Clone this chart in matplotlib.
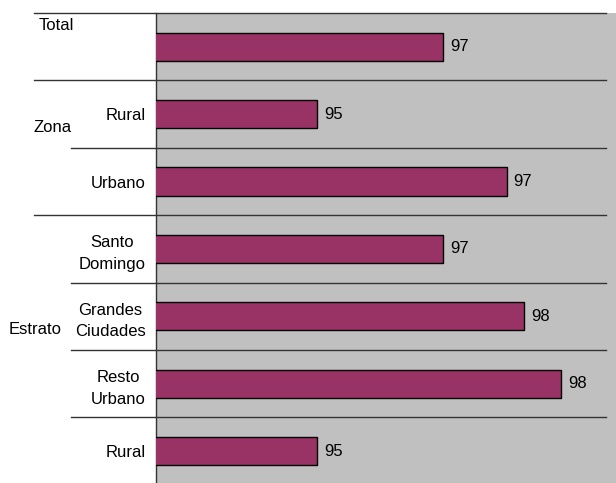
import matplotlib
matplotlib.use("Agg")
import matplotlib.pyplot as plt
import matplotlib.transforms as mtransforms

plt.rcParams['font.family'] = ['Liberation Sans', 'DejaVu Sans']

categories = ["", "Rural", "Urbano", "Santo\nDomingo", "Grandes\nCiudades", "Resto\nUrbano", "Rural"]
values = [96.55, 94.75, 97.46, 96.55, 97.71, 98.24, 94.75]
groups = ["Total", "Zona", "Estrato"]

FS = 12
W, H = 616, 483
fig = plt.figure(figsize=(W / 100, H / 100), dpi=100)
ax_left, ax_right, ax_top, ax_bottom = 156, 616, 13, 483
ax = fig.add_axes([ax_left / W, 1 - ax_bottom / H, (ax_right - ax_left) / W, (ax_bottom - ax_top) / H])
ax.set_facecolor('#c0c0c0')

ypos = list(range(len(values)))
ax.barh(ypos, values, height=0.42, left=0, color='#993366', edgecolor='black', linewidth=1.0, zorder=3)
xmin = 92.45
ax.set_xlim(xmin, xmin + (ax_right - ax_left) / 70.0)
span = (ax_bottom - ax_top) / 67.4
ax.set_ylim(-0.5 + span, -0.5)

for y, v in zip(ypos, values):
    ax.annotate(f"{v:.0f}", xy=(v, y), xytext=(5, 0), textcoords='offset points',
                ha='left', va='center', fontsize=FS, color='black')

ax.set_xticks([])
ax.set_yticks(ypos)
ax.set_yticklabels(categories, fontsize=FS, multialignment='center', linespacing=1.55)
ax.tick_params(axis='y', length=0, pad=7.5)
for s in ['top', 'right', 'bottom']:
    ax.spines[s].set_visible(False)
ax.spines['left'].set_color('#333333')
ax.spines['left'].set_linewidth(1.0)

# separator lines (x in figure fraction, y in data)
trans = mtransforms.blended_transform_factory(fig.transFigure, ax.transData)
line_end = 606 / W
for yb, xs in [(-0.5, 34), (0.5, 34), (1.5, 71), (2.5, 34), (3.5, 71), (4.5, 71), (5.5, 71)]:
    ax.plot([xs / W, line_end], [yb, yb], transform=trans, color='#333333', lw=1.0,
            clip_on=False, zorder=4)

# group labels
ax.text(39 / W, -0.31, groups[0], transform=trans, ha='left', va='center', fontsize=FS)
ax.text(33 / W, 1.2, groups[1], transform=trans, ha='left', va='center', fontsize=FS)
ax.text(9 / W, 4.2, groups[2], transform=trans, ha='left', va='center', fontsize=FS)

fig.savefig("out.png", dpi=100)
